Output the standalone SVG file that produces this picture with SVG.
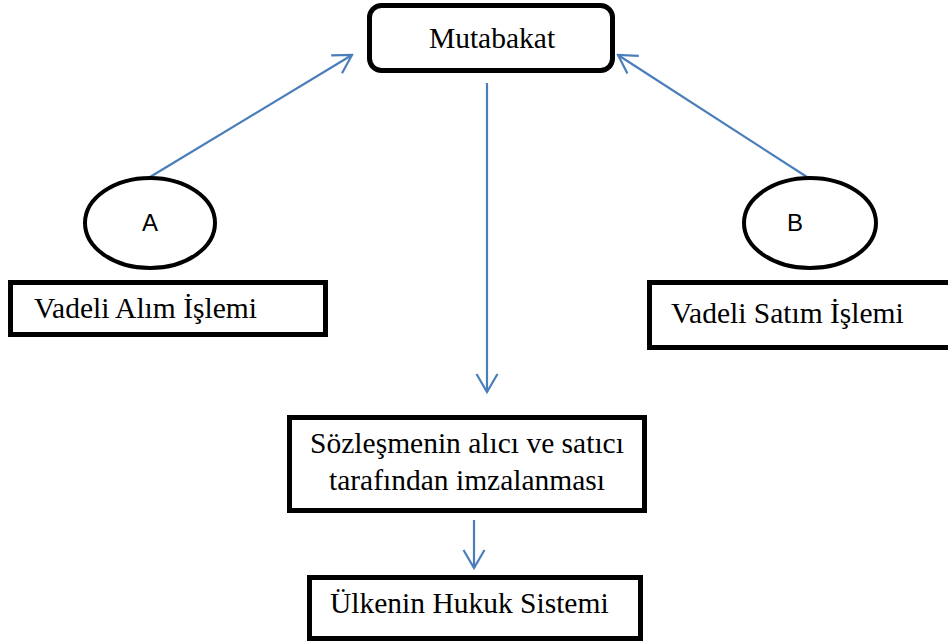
<svg xmlns="http://www.w3.org/2000/svg" width="948" height="644" viewBox="0 0 948 644">
<defs>
<style>
.box{fill:#fff;stroke:#000;stroke-width:5}
.ell{fill:#fff;stroke:#000;stroke-width:4}
.t{font-family:"Liberation Serif","Times New Roman",serif;font-size:29.5px;fill:#000}
.s{font-family:"Liberation Sans",Arial,sans-serif;font-size:24px;fill:#000}
.c{fill:none;stroke:#4a7ebb;stroke-width:2.2}
</style>
<marker id="ah" markerUnits="userSpaceOnUse" viewBox="-22 -13 24 26" refX="0" refY="0" markerWidth="24" markerHeight="26" orient="auto">
<path d="M -18,-10.5 L 0,0 L -18,10.5" fill="none" stroke="#4a7ebb" stroke-width="2.2"/>
</marker>
</defs>
<rect width="948" height="644" fill="#fff"/>
<g id="connectors">
<line class="c" x1="150" y1="177" x2="352" y2="55" marker-end="url(#ah)"/>
<line class="c" x1="807" y1="177" x2="618" y2="55" marker-end="url(#ah)"/>
<line class="c" x1="487" y1="83" x2="487" y2="392" marker-end="url(#ah)"/>
<line class="c" x1="474" y1="520" x2="474" y2="568" marker-end="url(#ah)"/>
</g>
<g id="mutabakat">
<rect class="box" x="369.5" y="5.5" width="243" height="65" rx="12"/>
<text class="t" x="492" y="48" text-anchor="middle">Mutabakat</text>
</g>
<g id="a">
<ellipse class="ell" cx="150" cy="223" rx="65" ry="45"/>
<text class="s" x="150" y="231" text-anchor="middle">A</text>
</g>
<g id="b">
<ellipse class="ell" cx="810" cy="223" rx="66" ry="45"/>
<text class="s" x="795" y="231" text-anchor="middle">B</text>
</g>
<g id="alim">
<rect class="box" x="10.5" y="282.5" width="315" height="52"/>
<text class="t" x="34" y="318">Vadeli Alım İşlemi</text>
</g>
<g id="satim">
<rect class="box" x="649.5" y="282.5" width="310" height="65"/>
<text class="t" x="671" y="323">Vadeli Satım İşlemi</text>
</g>
<g id="sozlesme">
<rect class="box" x="289.5" y="417.5" width="355" height="93"/>
<text class="t" x="467" y="453" text-anchor="middle">Sözleşmenin alıcı ve satıcı</text>
<text class="t" x="467" y="490" text-anchor="middle">tarafından imzalanması</text>
</g>
<g id="hukuk">
<rect class="box" x="309.5" y="577.5" width="331" height="61"/>
<text class="t" x="330" y="613">Ülkenin Hukuk Sistemi</text>
</g>
</svg>
